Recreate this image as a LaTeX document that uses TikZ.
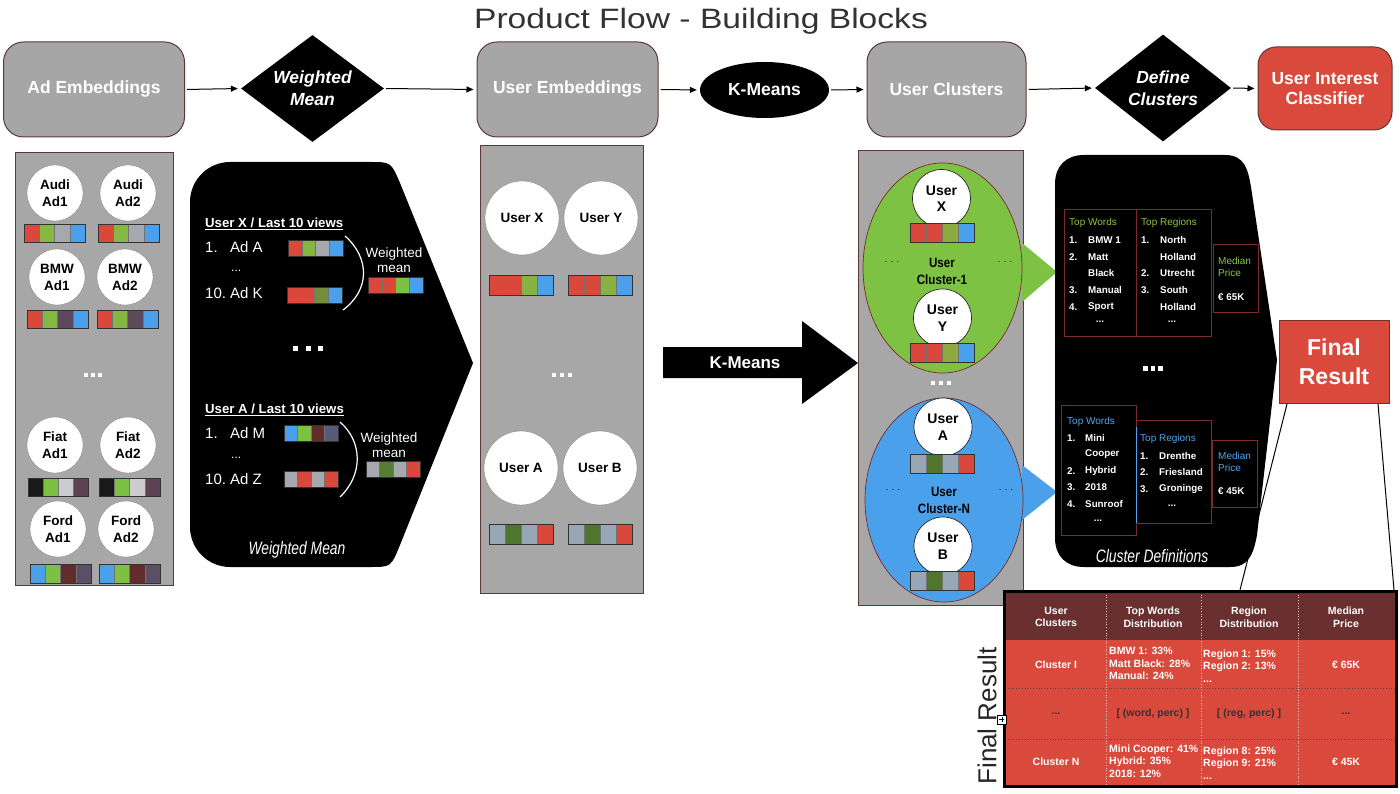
\documentclass[tikz,border=0pt]{standalone}
\usepackage{fontspec}
\setmainfont{Liberation Sans}
\newfontfamily\condfont[FakeStretch=0.77]{Liberation Sans}
\newfontfamily\narrowfont[FakeStretch=0.86]{Liberation Sans}
\newfontfamily\titlefont[FakeStretch=1.2]{Liberation Sans}
\usetikzlibrary{shapes.geometric,arrows.meta}

\definecolor{pgray}{RGB}{167,167,167}
\definecolor{bgray}{RGB}{166,166,166}
\definecolor{pborder}{RGB}{95,55,55}
\definecolor{ered}{RGB}{217,72,58}
\definecolor{egreen}{RGB}{125,193,66}
\definecolor{egray}{RGB}{165,168,172}
\definecolor{eblue}{RGB}{74,160,235}
\definecolor{ebrown}{RGB}{98,44,44}
\definecolor{eblk}{RGB}{25,25,25}
\definecolor{elight}{RGB}{205,205,205}
\definecolor{cred}{RGB}{217,73,60}
\definecolor{hbrown}{RGB}{106,48,48}
\definecolor{twgreen}{RGB}{140,198,63}
\definecolor{twblue}{RGB}{80,165,240}
\definecolor{darkred}{RGB}{125,42,42}
\definecolor{cgreen}{RGB}{125,194,66}
\definecolor{cblue}{RGB}{75,160,236}

\newcommand\fs[2]{\fontsize{#1}{#2}\selectfont}
\newcommand\ebar[5]{%
  \foreach \cc [count=\ii from 0] in {#5}{\fill[\cc] ({#1+\ii*#3/4},#2) rectangle ({#1+(\ii+1)*#3/4},{#2+#4});}
  \foreach \ii in {1,2,3}{\draw[black!55,line width=0.4pt] ({#1+\ii*#3/4},#2) -- ({#1+\ii*#3/4},{#2+#4});}
  \draw[black!80,line width=0.6pt] (#1,#2) rectangle ({#1+#3},{#2+#4});}
\newcommand\sqdots[4]{% x y size gap
  \foreach \ii in {0,1,2}{\fill[white] ({#1+\ii*(#3+#4)},#2) rectangle ({#1+\ii*(#3+#4)+#3},{#2+#3});}}

\begin{document}
\begin{tikzpicture}[x=1pt,y=-1pt,
  gbox/.style={rectangle, rounded corners=20pt, fill=bgray, draw=pborder, line width=1pt, text=white, font=\bfseries\fs{17.5}{20}, align=center},
  flow/.style={-{Triangle[length=7pt,width=6pt]}, line width=1pt, shorten <=2pt, shorten >=3pt},
  dia/.style={diamond, fill=black, text=white, font=\bfseries\itshape\fs{17.5}{22}, align=center, aspect=1.34, inner sep=0pt},
  adc/.style={circle, fill=white, draw=black!45, line width=0.4pt, minimum size=56pt, inner sep=0pt, align=center, font=\bfseries\fs{13.5}{17}},
  usc/.style={adc, minimum size=74pt},
  clc/.style={adc, minimum size=58pt, draw=black!85, line width=0.7pt, font=\bfseries\fs{14}{16.5}},
  panel/.style={fill=pgray, draw=pborder, line width=0.8pt},
  wl/.style={text=white, font=\fs{15}{18}, anchor=west, inner sep=0pt},
  wh/.style={text=white, font=\bfseries\fs{13.2}{16}, anchor=west, inner sep=0pt},
  wmean/.style={text=white, font=\fs{13.5}{15.5}, align=center, inner sep=0pt},
  defbox/.style={draw=darkred, line width=0.7pt},
  dt/.style={text=white, font=\bfseries\fs{9.8}{12}, anchor=west, inner sep=0pt},
  dtit/.style={font=\fs{10}{12}, anchor=west, inner sep=0pt},
  captxt/.style={text=white, font=\condfont\itshape\fs{18}{20}, inner sep=0pt},
  th/.style={text=white, font=\bfseries\fs{10.5}{12.5}, align=center, inner sep=0pt},
  tc/.style={text=white, font=\bfseries\fs{10.5}{12.5}, align=left, anchor=west, inner sep=0pt},
  tcc/.style={text=white, font=\bfseries\fs{10.5}{12.5}, inner sep=0pt},
  tdark/.style={text=black!80, font=\bfseries\fs{10.5}{12.5}, inner sep=0pt},
  edots/.style={text=black, font=\fs{9}{10}, inner sep=0pt}]
\useasboundingbox (0,0) rectangle (1400,794);
\fill[white] (0,0) rectangle (1400,794);

% ---------- title ----------
\node[anchor=base, font=\titlefont\fs{28}{32}, text=black!80, inner sep=0pt] (title) at (701,29) {Product Flow - Building Blocks};

% ---------- top row ----------
\node[gbox, minimum width=181pt, minimum height=95pt] (adE) at (94,89.5) {Ad Embeddings};
\node[dia, minimum width=143pt, minimum height=107pt] (wm) at (312.5,88.5) {Weighted\\Mean};
\node[gbox, minimum width=181pt, minimum height=95pt] (usE) at (567.5,89.5) {User Embeddings};
\node[ellipse, fill=black, text=white, font=\bfseries\fs{17.5}{20}, minimum width=129pt, minimum height=56pt, inner sep=0pt] (km) at (764.5,90) {K-Means};
\node[gbox, minimum width=159pt, minimum height=95pt] (usC) at (946.5,89.5) {User Clusters};
\node[dia, minimum width=136pt, minimum height=107pt] (dc) at (1163,88) {Define\\Clusters};
\node[gbox, fill=cred, rounded corners=18pt, minimum width=134pt, minimum height=83pt] (uic) at (1325,88.5) {User Interest\\Classifier};

\draw[flow] (adE.east) -- (wm.west);
\draw[flow] (wm.east) -- (usE.west);
\draw[flow] (usE.east) -- (km.west);
\draw[flow] (km.east) -- (usC.west);
\draw[flow] (usC.east) -- (dc.west);
\draw[flow] (dc.east) -- (uic.west);

% ---------- Ad embeddings panel ----------
\draw[panel] (15,152) rectangle (173,585);
\node[adc] (a1) at (55,193) {Audi\\Ad1};
\node[adc] (a2) at (128,193) {Audi\\Ad2};
\node[adc] (b1) at (57,277) {BMW\\Ad1};
\node[adc] (b2) at (125,277) {BMW\\Ad2};
\node[adc] (f1) at (55,445) {Fiat\\Ad1};
\node[adc] (f2) at (128,445) {Fiat\\Ad2};
\node[adc] (o1) at (58,529) {Ford\\Ad1};
\node[adc] (o2) at (126,529) {Ford\\Ad2};
\ebar{24}{224}{61}{18}{ered,egreen!93!ered,egray,eblue}
\ebar{98}{224}{61}{18}{ered,egreen!93!ered,egray,eblue}
\ebar{27}{310}{61}{18}{ered,egreen!93!ered,ebrown!75!eblue,eblue}
\ebar{97}{310}{61}{18}{ered,egreen!93!ered,ebrown!75!eblue,eblue}
\ebar{28}{478}{60}{18}{eblk,egreen,elight,ebrown!80!eblue}
\ebar{99}{478}{61}{18}{eblk,egreen,elight,ebrown!80!eblue}
\ebar{30}{564}{61}{19}{eblue,egreen,ebrown,ebrown!70!eblue}
\ebar{99}{564}{61}{19}{eblue,egreen,ebrown,ebrown!70!eblue}
\sqdots{84}{373}{4}{3}

% ---------- Weighted mean panel ----------
\fill[black] (230,162) -- (370,162) .. controls (391,162) .. (400,183) -- (473,363) -- (400,545) .. controls (391,567) .. (370,567) -- (230,567) .. controls (208,567) and (190,549) .. (190,527) -- (190,202) .. controls (190,180) and (208,162) .. (230,162) -- cycle;
\node[wh] (uxh) at (205,224) {\underline{User X / Last 10 views}};
\node[wl] (n1) at (205,247) {1.};
\node[wl] (adA) at (230,247) {Ad A};
\node[wl, font=\fs{12}{14}] (d1) at (231,271) {...};
\node[wl] (n10) at (205,293) {10.};
\node[wl] (adK) at (230,293) {Ad K};
\ebar{288}{240}{55}{16}{ered,egreen!92!ered,egray,eblue}
\ebar{287}{287}{55}{16}{ered,ered,ebrown!35!egreen,eblue}
\draw[white, line width=1.2pt] (345,236) .. controls (370,258) and (370,290) .. (343,310);
\node[wmean] (wm1) at (394,260) {Weighted\\mean};
\ebar{368}{277}{55}{16}{ered,ered,egreen,eblue}
\sqdots{293}{346}{5}{7.5}
\node[wh] (uah) at (205,410) {\underline{User A / Last 10 views}};
\node[wl] (n1b) at (205,433) {1.};
\node[wl] (adM) at (230,433) {Ad M};
\node[wl, font=\fs{12}{14}] (d2) at (231,458) {...};
\node[wl] (n10b) at (205,479) {10.};
\node[wl] (adZ) at (230,479) {Ad Z};
\ebar{284}{425}{54}{16}{eblue,egreen,ebrown,ebrown!60!eblue}
\ebar{284}{471}{54}{16}{egray,ered,egray,ered}
\draw[white, line width=1.2pt] (340,422) .. controls (363,442) and (363,475) .. (340,497);
\node[wmean] (wm2) at (389,445) {Weighted\\mean};
\ebar{366}{461}{54}{16}{egray,eblk!40!egreen,egray,ered}
\node[captxt] (wmcap) at (297,550) {Weighted Mean};

% ---------- User embeddings panel ----------
\draw[panel] (480,145) rectangle (643,593);
\node[usc] (ux) at (522,218) {User X};
\node[usc] (uy) at (601,218) {User Y};
\node[usc] (ua) at (521,468) {User A};
\node[usc] (ub) at (600,468) {User B};
\ebar{489}{275}{64}{20}{ered,ered,egreen!88!ered,eblue}
\ebar{568}{275}{64}{20}{ered,ered,egreen!88!ered,eblue}
\ebar{489}{524}{64}{20}{egray!85!eblue,eblk!45!egreen,egray!85!eblue,ered}
\ebar{568}{524}{64}{20}{egray!85!eblue,eblk!45!egreen,egray!85!eblue,ered}
\sqdots{552}{373}{4}{4}

% ---------- K-Means big arrow ----------
\fill[black] (663,347) -- (802,347) -- (802,321) -- (858,363) -- (802,404) -- (802,378) -- (663,378) -- cycle;
\node[text=white, font=\bfseries\fs{17}{20}, inner sep=0pt] (kmbig) at (745,363) {K-Means};

% ---------- User clusters panel ----------
\draw[panel] (858,150) rectangle (1023,605);
\fill[cgreen] (1022,243) -- (1057,272) -- (1022,302) -- cycle;
\fill[cblue] (1022,465) -- (1057,492) -- (1022,520) -- cycle;
\node[ellipse, fill=cgreen, draw=darkred, line width=0.7pt, minimum width=159pt, minimum height=210pt, inner sep=0pt] (cl1) at (942.5,268) {};
\node[ellipse, fill=cblue, draw=darkred, line width=0.7pt, minimum width=158pt, minimum height=204pt, inner sep=0pt] (clN) at (944,500) {};
\node[clc] (cx) at (941.5,198.5) {User\\X};
\node[clc] (cy) at (942.5,318) {User\\Y};
\node[clc] (ca) at (943,427) {User\\A};
\node[clc] (cb) at (943,546) {User\\B};
\ebar{910}{223}{64}{19}{ered,ered,egreen!80!ered,eblue}
\ebar{910}{343}{64}{19}{ered,ered,egreen!80!ered,eblue}
\ebar{910}{454}{64}{19}{egray!85!eblue,eblk!45!egreen,egray!85!eblue,ered}
\ebar{910}{571}{64}{19}{egray!85!eblue,eblk!45!egreen,egray!85!eblue,ered}
\node[font=\narrowfont\bfseries\fs{13.5}{17}, align=center, inner sep=0pt] (cl1t) at (942,271.5) {User\\Cluster-1};
\node[font=\narrowfont\bfseries\fs{13.5}{17}, align=center, inner sep=0pt] (clNt) at (944,500) {User\\Cluster-N};
\node[edots] (e1) at (892,262) {. . .};
\node[edots] (e2) at (1005,262) {. . .};
\node[edots] (e3) at (893,490) {. . .};
\node[edots] (e4) at (1006,490) {. . .};
\sqdots{931}{381}{4}{4}

% ---------- Cluster definitions ----------
\fill[black] (1084,155) -- (1225,155) .. controls (1245,155) and (1248,170) .. (1251,187) -- (1277,360) -- (1257,535) .. controls (1253,556) and (1248,567) .. (1230,567) -- (1084,567) .. controls (1066,567) and (1055,556) .. (1055,538) -- (1055,184) .. controls (1055,166) and (1066,155) .. (1084,155) -- cycle;
% top cluster
\draw[defbox] (1064,209) rectangle (1136,336);
\draw[defbox] (1136,209) rectangle (1211,336);
\draw[defbox] (1213,244) rectangle (1258,312);
\node[dtit, text=twgreen] (tw1) at (1069,223) {Top Words};
\foreach \yy/\nn/\ww in {240/1./BMW 1, 257/2./Matt, 273//Black, 290/3./Manual, 307/4./Sport}{
  \node[dt] (twn\yy) at (1069,\yy) {\nn};
  \node[dt] (tww\yy) at (1088,\yy) {\ww};}
\node[dt, anchor=center] (twd1) at (1100,322) {...};
\node[dtit, text=twgreen] (tr1) at (1141,223) {Top Regions};
\foreach \yy/\nn/\ww in {240/1./North, 257//Holland, 273/2./Utrecht, 290/3./South, 307//Holland}{
  \node[dt] (trn\yy) at (1141,\yy) {\nn};
  \node[dt] (trw\yy) at (1160,\yy) {\ww};}
\node[dt, anchor=center] (trd1) at (1172,322) {...};
\node[dtit, text=twgreen, align=left, font=\fs{10}{12}] (mp1) at (1218,267) {Median\\Price};
\node[dt] (pr1) at (1218,297) {€ 65K};
\sqdots{1143}{366}{4.5}{3}
% bottom cluster
\draw[defbox] (1061,405) rectangle (1136,535);
\draw[defbox] (1136,420) rectangle (1211,523);
\draw[twblue, line width=0.7pt] (1136,427) -- (1136,523);
\draw[defbox] (1212,440) rectangle (1257,507);
\node[dtit, text=twblue] (tw2) at (1067,422) {Top Words};
\foreach \yy/\nn/\ww in {438/1./Mini, 454//Cooper, 471/2./Hybrid, 487/3./2018, 504/4./Sunroof}{
  \node[dt] (tbn\yy) at (1067,\yy) {\nn};
  \node[dt] (tbw\yy) at (1085,\yy) {\ww};}
\node[dt, anchor=center] (twd2) at (1098,521) {...};
\node[dtit, text=twblue] (tr2) at (1140,439) {Top Regions};
\foreach \yy/\nn/\ww in {456/1./Drenthe, 472/2./Friesland, 489/3./Groninge}{
  \node[dt] (rbn\yy) at (1140,\yy) {\nn};
  \node[dt] (rbw\yy) at (1159,\yy) {\ww};}
\node[dt, anchor=center] (trd2) at (1172,506) {...};
\node[dtit, text=twblue, align=left, font=\fs{10}{12}] (mp2) at (1218,462) {Median\\Price};
\node[dt] (pr2) at (1218,491) {€ 45K};
\node[captxt] (cdcap) at (1152,556) {Cluster Definitions};

% ---------- Final result ----------
\node[rectangle, fill=cred, draw=darkred, line width=1pt, minimum width=110pt, minimum height=83pt, text=white, font=\bfseries\fs{23}{29}, align=center, inner sep=0pt] (fr) at (1334,361.5) {Final\\Result};
\coordinate (frl) at (1287,404);
\coordinate (frr) at (1378,404);
\coordinate (tbl) at (1240,590);
\coordinate (tbr) at (1394,590);
\draw[line width=1pt] (frl) -- (tbl);
\draw[line width=1pt] (frr) -- (tbr);

% ---------- table ----------
\fill[hbrown] (1005,592) rectangle (1395,640);
\fill[cred] (1005,640) rectangle (1395,785);
\draw[black!70, dotted, line width=0.8pt] (1005,688) -- (1395,688);
\draw[black!70, dotted, line width=0.8pt] (1005,739) -- (1395,739);
\foreach \xx in {1106,1201,1298}{\draw[red!25!white, dotted, line width=0.7pt] (\xx,592) -- (\xx,785);}
\draw[black, line width=3pt] (1004,591) rectangle (1396,786);
\node[th] (h1) at (1056,617) {User\\Clusters};
\node[th] (h2) at (1153,617) {Top Words\\Distribution};
\node[th] (h3) at (1249,617) {Region\\Distribution};
\node[th] (h4) at (1346,617) {Median\\Price};
\node[tcc] (r11) at (1056,665) {Cluster I};
\node[tc] (r12) at (1109,663.5) {BMW 1: 33\%\\Matt Black: 28\%\\Manual: 24\%};
\node[tc] (r13) at (1203,666) {Region 1: 15\%\\Region 2: 13\%\\...};
\node[tcc] (r14) at (1346,665) {€ 65K};
\node[tdark] (r21) at (1056,714) {...};
\node[tdark] (r22) at (1153,714) {[ (word, perc) ]};
\node[tdark] (r23) at (1249,714) {[ (reg, perc) ]};
\node[tdark] (r24) at (1346,714) {...};
\node[tcc] (r31) at (1056,762) {Cluster N};
\node[tc] (r32) at (1109,761) {Mini Cooper: 41\%\\Hybrid: 35\%\\2018: 12\%};
\node[tc] (r33) at (1203,763) {Region 8: 25\%\\Region 9: 21\%\\...};
\node[tcc] (r34) at (1346,762) {€ 45K};
\node[rotate=90, font=\fs{26}{30}, text=black!85, inner sep=0pt] (frt) at (987,716) {Final Result};
\node[draw=black, fill=white, line width=0.6pt, minimum size=9pt, inner sep=0pt] (plus) at (1002,719.5) {};
\draw[line width=0.6pt] (plus.west) ++(2,0) -- ++(5,0);
\draw[line width=0.6pt] (plus.north) ++(0,2) -- ++(0,5);
\end{tikzpicture}
\end{document}
